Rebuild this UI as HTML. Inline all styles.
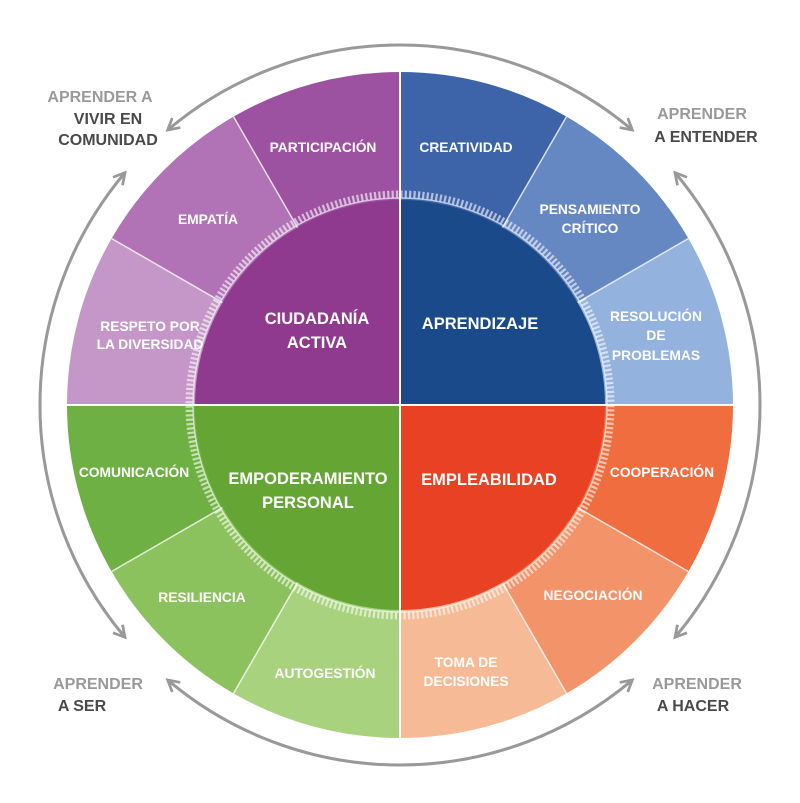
<!DOCTYPE html>
<html><head><meta charset="utf-8"><style>
html,body{margin:0;padding:0;background:#fff;}
svg{display:block;}
text{font-family:"Liberation Sans Narrow","Liberation Sans",sans-serif;font-weight:bold;text-anchor:middle;}
.w{fill:#fff;font-size:13.8px;}
.c{fill:#fff;font-size:16.5px;}
.g{fill:#9a9a9a;font-size:16px;}
.d{fill:#4a4a4a;font-size:16px;}
</style></head><body>
<svg width="800" height="803" viewBox="0 0 800 803" xmlns="http://www.w3.org/2000/svg">
<defs>
<marker id="ah" viewBox="0 0 12 12" refX="9" refY="6" markerWidth="5" markerHeight="5" orient="auto-start-reverse" markerUnits="strokeWidth">
<path d="M1,1 L10,6 L1,11" fill="none" stroke="#999" stroke-width="2.2"/>
</marker>
</defs>
<path d="M400,405 L400,72 A333,333 0 0,0 233.5,116.6 Z" fill="#9c52a0"/>
<path d="M400,405 L233.5,116.6 A333,333 0 0,0 111.6,238.5 Z" fill="#b173b6"/>
<path d="M400,405 L111.6,238.5 A333,333 0 0,0 67,405 Z" fill="#c597c9"/>
<path d="M400,405 L733,405 A333,333 0 0,0 688.4,238.5 Z" fill="#93b2dd"/>
<path d="M400,405 L688.4,238.5 A333,333 0 0,0 566.5,116.6 Z" fill="#6688c2"/>
<path d="M400,405 L566.5,116.6 A333,333 0 0,0 400,72 Z" fill="#3d63a8"/>
<path d="M400,405 L67,405 A333,333 0 0,0 111.6,571.5 Z" fill="#6eb043"/>
<path d="M400,405 L111.6,571.5 A333,333 0 0,0 233.5,693.4 Z" fill="#8cc25d"/>
<path d="M400,405 L233.5,693.4 A333,333 0 0,0 400,738 Z" fill="#a9d27f"/>
<path d="M400,405 L400,738 A333,333 0 0,0 566.5,693.4 Z" fill="#f6bb96"/>
<path d="M400,405 L566.5,693.4 A333,333 0 0,0 688.4,571.5 Z" fill="#f29369"/>
<path d="M400,405 L688.4,571.5 A333,333 0 0,0 733,405 Z" fill="#ef6d3e"/>
<g stroke="#fff" stroke-opacity="0.75" stroke-width="1.5">
<line x1="400" y1="405" x2="233.5" y2="116.6"/>
<line x1="400" y1="405" x2="111.6" y2="238.5"/>
<line x1="400" y1="405" x2="688.4" y2="238.5"/>
<line x1="400" y1="405" x2="566.5" y2="116.6"/>
<line x1="400" y1="405" x2="111.6" y2="571.5"/>
<line x1="400" y1="405" x2="233.5" y2="693.4"/>
<line x1="400" y1="405" x2="566.5" y2="693.4"/>
<line x1="400" y1="405" x2="688.4" y2="571.5"/>
</g>
<circle cx="400" cy="405" r="211" fill="none" stroke="#fff" stroke-opacity="0.6" stroke-width="7" stroke-dasharray="2.2 2.2"/>
<circle cx="400" cy="405" r="207" fill="none" stroke="#fff" stroke-opacity="0.65" stroke-width="1.5"/>
<path d="M400,405 L400,200 A205,205 0 0,0 195,405 Z" fill="#8f3a8f"/>
<path d="M400,405 L605,405 A205,205 0 0,0 400,200 Z" fill="#1b4a8b"/>
<path d="M400,405 L195,405 A205,205 0 0,0 400,610 Z" fill="#64a534"/>
<path d="M400,405 L400,610 A205,205 0 0,0 605,405 Z" fill="#e94124"/>
<g stroke="#fff" stroke-width="2">
<line x1="400" y1="72" x2="400" y2="738"/>
<line x1="67" y1="405" x2="733" y2="405"/>
</g>
<g fill="none" stroke="#999" stroke-width="3" marker-start="url(#ah)" marker-end="url(#ah)">
<path d="M631.4,129.2 A360,360 0 0,0 168.6,129.2"/>
<path d="M124.2,173.6 A360,360 0 0,0 124.2,636.4"/>
<path d="M168.6,680.8 A360,360 0 0,0 631.4,680.8"/>
<path d="M675.8,636.4 A360,360 0 0,0 675.8,173.6"/>
</g>
<text class="w" x="323" y="152">PARTICIPACIÓN</text>
<text class="w" x="208" y="224">EMPATÍA</text>
<text class="w" x="150" y="331">RESPETO POR</text>
<text class="w" x="150" y="349">LA DIVERSIDAD</text>
<text class="c" x="317" y="324">CIUDADANÍA</text>
<text class="c" x="317" y="348">ACTIVA</text>
<text class="w" x="466" y="152">CREATIVIDAD</text>
<text class="w" x="590" y="214">PENSAMIENTO</text>
<text class="w" x="590" y="233">CRÍTICO</text>
<text class="w" x="656" y="321">RESOLUCIÓN</text>
<text class="w" x="656" y="340">DE</text>
<text class="w" x="656" y="360">PROBLEMAS</text>
<text class="c" x="480" y="329">APRENDIZAJE</text>
<text class="w" x="134" y="477">COMUNICACIÓN</text>
<text class="c" x="308" y="484">EMPODERAMIENTO</text>
<text class="c" x="308" y="508">PERSONAL</text>
<text class="c" x="489" y="485">EMPLEABILIDAD</text>
<text class="w" x="662" y="477">COOPERACIÓN</text>
<text class="w" x="202" y="602">RESILIENCIA</text>
<text class="w" x="593" y="600">NEGOCIACIÓN</text>
<text class="w" x="325" y="678">AUTOGESTIÓN</text>
<text class="w" x="466" y="667">TOMA DE</text>
<text class="w" x="466" y="686">DECISIONES</text>
<text class="g" x="100" y="102">APRENDER A</text>
<text class="d" x="108" y="124">VIVIR EN</text>
<text class="d" x="108" y="145">COMUNIDAD</text>
<text class="g" x="702" y="119">APRENDER</text>
<text class="d" x="706" y="142">A ENTENDER</text>
<text class="g" x="98" y="689">APRENDER</text>
<text class="d" x="82" y="711">A SER</text>
<text class="g" x="697" y="689">APRENDER</text>
<text class="d" x="693" y="711">A HACER</text>
</svg>
</body></html>
